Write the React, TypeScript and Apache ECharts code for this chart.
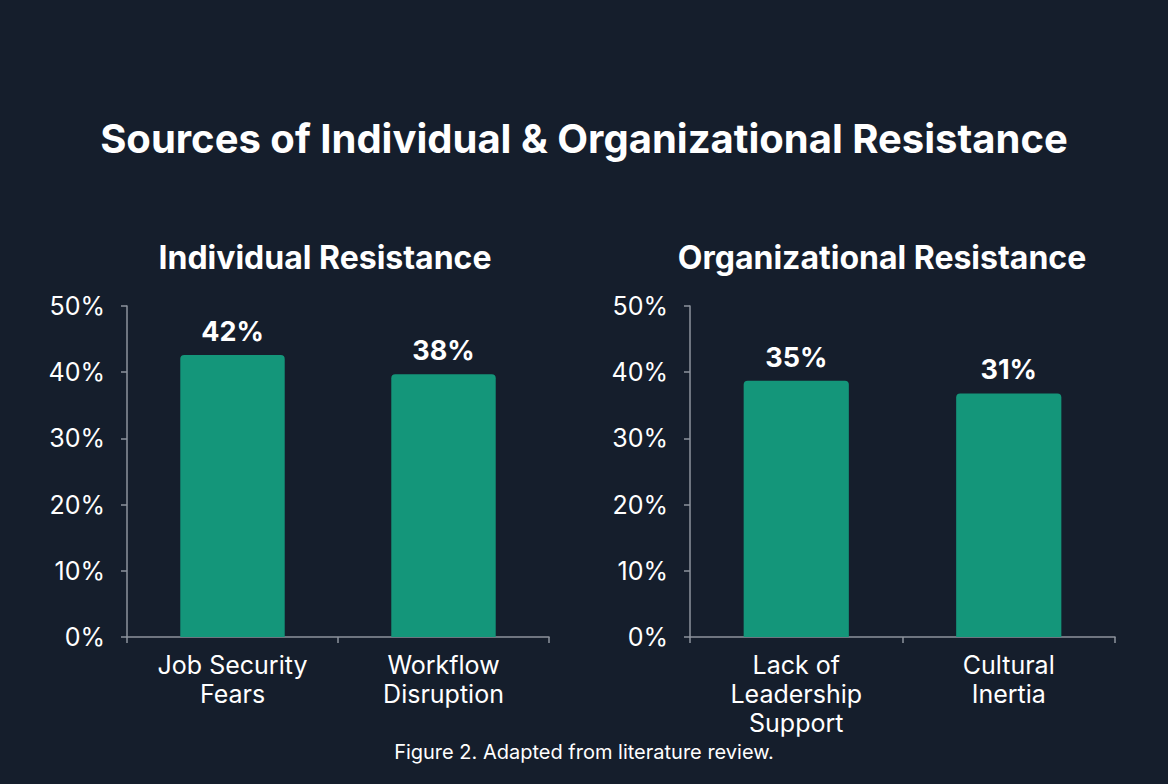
import React, { useEffect, useRef } from "react";
import * as echarts from "echarts";

const mainTitle = "Sources of Individual & Organizational Resistance";
const leftTitle = "Individual Resistance";
const rightTitle = "Organizational Resistance";
const caption = "Figure 2. Adapted from literature review.";

const leftCategories = ["Job Security\nFears", "Workflow\nDisruption"];
const leftValues = [42.6, 39.7];
const leftLabels = ["42%", "38%"];

const rightCategories = ["Lack of\nLeadership\nSupport", "Cultural\nInertia"];
const rightValues = [38.7, 36.8];
const rightLabels = ["35%", "31%"];

const yTicks = [0, 10, 20, 30, 40, 50];

const BG = "#151e2c";
const BAR = "#14967a";
const AXIS = "#8d939c";
const FONT = "Inter, 'Noto Sans', sans-serif";

export default function App() {
  const ref = useRef<HTMLDivElement>(null);
  useEffect(() => {
    if (!ref.current) return;
    const chart = echarts.init(ref.current, undefined, { renderer: "svg" });
    const makeX = (idx: number, cats: string[]) => ({
      type: "category",
      gridIndex: idx,
      data: cats,
      axisLine: { lineStyle: { color: AXIS, width: 1.5 } },
      axisTick: { show: true, length: 6, lineStyle: { color: AXIS, width: 1.5 } },
      axisLabel: {
        color: "#ffffff",
        fontSize: 25,
        lineHeight: 29,
        fontFamily: FONT,
        margin: 13,
        interval: 0,
      },
    });
    const makeY = (idx: number) => ({
      type: "value",
      gridIndex: idx,
      min: yTicks[0],
      max: yTicks[yTicks.length - 1],
      interval: 10,
      axisLine: { show: true, lineStyle: { color: AXIS, width: 1.5 } },
      axisTick: { show: true, length: 6, lineStyle: { color: AXIS, width: 1.5 } },
      splitLine: { show: false },
      axisLabel: {
        color: "#ffffff",
        fontSize: 25,
        fontFamily: FONT,
        margin: 22,
        formatter: (v: number) => `${v}%`,
      },
    });
    const makeSeries = (idx: number, values: number[], labels: string[]) => ({
      type: "bar",
      xAxisIndex: idx,
      yAxisIndex: idx,
      data: values,
      barWidth: "49.5%",
      itemStyle: { color: BAR, borderRadius: [4, 4, 0, 0] },
      label: {
        show: true,
        position: "top",
        distance: 10,
        color: "#ffffff",
        fontSize: 27,
        fontWeight: "bold",
        fontFamily: FONT,
        formatter: (p: any) => labels[p.dataIndex],
      },
    });
    chart.setOption({
      animation: false,
      backgroundColor: BG,
      title: [
        {
          text: mainTitle,
          left: "center",
          top: 113,
          textStyle: { color: "#ffffff", fontSize: 40, fontWeight: "bold", fontFamily: FONT },
        },
        {
          text: leftTitle,
          left: 320,
          textAlign: "center",
          top: 236,
          textStyle: { color: "#ffffff", fontSize: 32, fontWeight: "bold", fontFamily: FONT },
        },
        {
          text: rightTitle,
          left: 877,
          textAlign: "center",
          top: 236,
          textStyle: { color: "#ffffff", fontSize: 32, fontWeight: "bold", fontFamily: FONT },
        },
        {
          text: caption,
          left: "center",
          top: 737,
          textStyle: { color: "#ffffff", fontSize: 20, fontWeight: "normal", fontFamily: FONT },
        },
      ],
      grid: [
        { left: 127, right: 619, top: 306, bottom: 147 },
        { left: 690, right: 53, top: 306, bottom: 147 },
      ],
      xAxis: [makeX(0, leftCategories), makeX(1, rightCategories)],
      yAxis: [makeY(0), makeY(1)],
      series: [makeSeries(0, leftValues, leftLabels), makeSeries(1, rightValues, rightLabels)],
    });
    return () => chart.dispose();
  }, []);
  return (
    <div
      ref={ref}
      style={{ position: "fixed", left: 0, top: 0, width: 1168, height: 784 }}
    />
  );
}
